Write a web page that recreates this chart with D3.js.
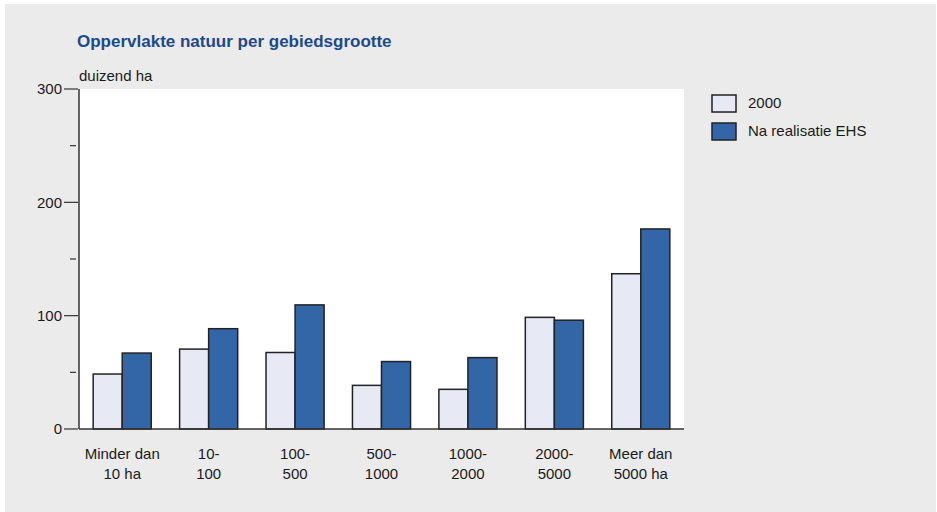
<!DOCTYPE html>
<html>
<head>
<meta charset="utf-8">
<script src="https://cdn.jsdelivr.net/npm/d3@7/dist/d3.min.js"></script>
<style>
  html, body { margin: 0; padding: 0; background: #ffffff; }
  svg { display: block; }
  text { font-family: "Liberation Sans", Arial, sans-serif; fill: #1a1a1a; }
</style>
</head>
<body>
<svg id="chart" width="937" height="512"></svg>
<script>
const categories = [["Minder dan", "10 ha"], ["10-", "100"], ["100-", "500"], ["500-", "1000"], ["1000-", "2000"], ["2000-", "5000"], ["Meer dan", "5000 ha"]];
const seriesNames = ["2000", "Na realisatie EHS"];
const values2000 = [48.5, 70.5, 67.5, 38.5, 35, 98.5, 137];
const valuesEHS = [67, 88.5, 109.5, 59.5, 63, 96, 176.5];
const yTicks = [0, 100, 200, 300];
const yMinorTicks = [50, 150, 250];
const colors = ["#e7eaf4", "#3366a6"];

const svg = d3.select("#chart");
// background panel
svg.append("rect").attr("x", 5).attr("y", 4).attr("width", 931).attr("height", 508).attr("fill", "#ebebeb");

const margin = { left: 79, right: 684, top: 89, bottom: 429 };

svg.append("text").attr("x", 77).attr("y", 47)
  .attr("font-size", 17).attr("font-weight", "bold").style("fill", "#1b4a8c")
  .text("Oppervlakte natuur per gebiedsgrootte");

// plot area
svg.append("rect").attr("x", margin.left).attr("y", margin.top)
  .attr("width", margin.right - margin.left).attr("height", margin.bottom - margin.top).attr("fill", "#ffffff");

const keys = categories.map(c => c.join(" "));
const p = 0.328;
const x0 = d3.scaleBand().domain(keys).range([margin.left, margin.right]).paddingInner(p).paddingOuter(p / 2);
const x1 = d3.scaleBand().domain(seriesNames).range([0, x0.bandwidth()]);
const y = d3.scaleLinear().domain([0, 300]).range([margin.bottom, margin.top]);

svg.append("text").attr("x", 79).attr("y", 81).attr("font-size", 15).text("duizend ha");

// bars
const data = keys.map((k, i) => ({ key: k, vals: [values2000[i], valuesEHS[i]] }));
const g = svg.append("g");
data.forEach(d => {
  d.vals.forEach((v, j) => {
    g.append("rect")
      .attr("x", x0(d.key) + x1(seriesNames[j]))
      .attr("y", y(v))
      .attr("width", x1.bandwidth())
      .attr("height", y(0) - y(v))
      .attr("fill", colors[j])
      .attr("stroke", "#222222").attr("stroke-width", 1.5);
  });
});

// axes
const axisG = svg.append("g");
axisG.append("line").attr("x1", margin.left).attr("x2", margin.left)
  .attr("y1", margin.top).attr("y2", margin.bottom).attr("stroke", "#333").attr("stroke-width", 1.5);
axisG.append("line").attr("x1", margin.left).attr("x2", margin.right)
  .attr("y1", margin.bottom).attr("y2", margin.bottom).attr("stroke", "#333").attr("stroke-width", 1.5);
yTicks.forEach(t => {
  axisG.append("line").attr("x1", 64).attr("x2", 78).attr("y1", y(t)).attr("y2", y(t))
    .attr("stroke", "#333").attr("stroke-width", 1.2);
  axisG.append("text").attr("x", 62).attr("y", y(t)).attr("dy", "0.36em")
    .attr("text-anchor", "end").attr("font-size", 15).text(t);
});
yMinorTicks.forEach(t => {
  axisG.append("line").attr("x1", 70).attr("x2", 76).attr("y1", y(t)).attr("y2", y(t))
    .attr("stroke", "#333").attr("stroke-width", 1.2);
});

// x labels
categories.forEach((c, i) => {
  const cx = x0(keys[i]) + x0.bandwidth() / 2;
  c.forEach((line, li) => {
    svg.append("text").attr("x", cx).attr("y", 459 + li * 20)
      .attr("text-anchor", "middle").attr("font-size", 15).text(line);
  });
});

// legend
const lg = svg.append("g");
seriesNames.forEach((s, i) => {
  lg.append("rect").attr("x", 712).attr("y", 95 + i * 28).attr("width", 24).attr("height", 17)
    .attr("fill", colors[i]).attr("stroke", "#222").attr("stroke-width", 1.5);
  lg.append("text").attr("x", 748).attr("y", 108 + i * 28).attr("font-size", 15).text(s);
});
</script>
</body>
</html>
